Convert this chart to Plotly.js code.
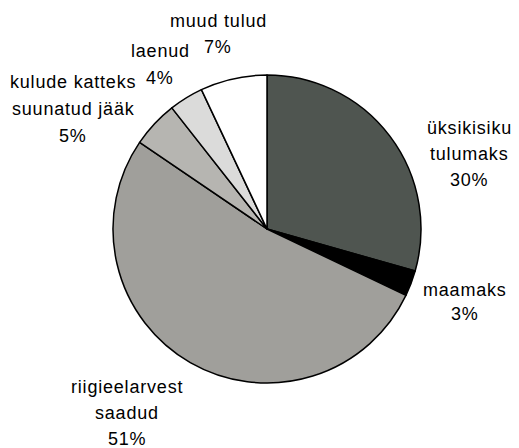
<!DOCTYPE html>
<html>
<head>
<meta charset="utf-8">
<script src="https://cdn.plot.ly/plotly-3.0.1.min.js"></script>
<style>
html,body{margin:0;padding:0;background:#fff;}
#chart{width:519px;height:448px;}
.annotation-text{letter-spacing:0.8px;}
</style>
</head>
<body>
<div id="chart"></div>
<script>
const labels = ["üksikisiku<br>tulumaks", "maamaks", "riigieelarvest<br>saadud", "kulude katteks<br>suunatud jääk", "laenud", "muud tulud"];
const values = [29.4, 2.7, 52.4, 4.9, 3.6, 7.0];
const percentText = ["30%", "3%", "51%", "5%", "4%", "7%"];
const colors = ["#4f5550", "#000000", "#a09f9b", "#b6b5b1", "#dbdbda", "#ffffff"];

// label layout: centre x, first baseline y, line spacing (pixels)
const labelPos = [[469, 134, 26], [465, 296, 24], [127, 393, 26], [73, 88, 27], [160, 57, 27], [218, 27, 26]];
const W = 519, H = 448;

const annotations = [];
labels.forEach((l, i) => {
  const lines = (l + "<br>" + percentText[i]).split("<br>");
  lines.forEach((t, j) => {
    const base = labelPos[i][1] + j * labelPos[i][2];
    annotations.push({
      text: t,
      xref: "paper", yref: "paper",
      x: labelPos[i][0] / W, y: 1 - (base - 6) / H,
      xanchor: "center", yanchor: "middle",
      showarrow: false, align: "center",
      font: {family: "Liberation Sans, Arial, sans-serif", size: 18, color: "#000"}
    });
  });
});

const cx = 267, cy = 229, r = 154;
const data = [{
  type: "pie",
  labels: labels,
  values: values,
  sort: false,
  direction: "clockwise",
  rotation: 0,
  textinfo: "none",
  hoverinfo: "skip",
  marker: {colors: colors, line: {color: "#000", width: 1.5}},
  domain: {x: [(cx - r) / W, (cx + r) / W], y: [1 - (cy + r) / H, 1 - (cy - r) / H]}
}];

const layout = {
  width: W, height: H,
  margin: {l: 0, r: 0, t: 0, b: 0},
  paper_bgcolor: "#fff",
  showlegend: false,
  annotations: annotations
};

Plotly.newPlot("chart", data, layout, {displayModeBar: false, staticPlot: true});
</script>
</body>
</html>
